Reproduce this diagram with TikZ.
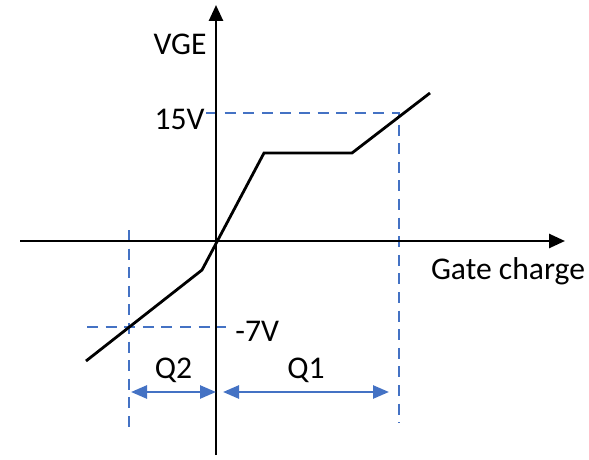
\documentclass[tikz,border=0pt]{standalone}
\usepackage{fontspec}
\setmainfont{Carlito}
\usetikzlibrary{arrows.meta}
\definecolor{guideblue}{RGB}{68,114,196}

\begin{document}
\begin{tikzpicture}[x=0.5pt,y=-0.5pt,
		axis/.style={line width=1.3pt, -{Triangle[length=8pt,width=7pt]}},
		guide/.style={guideblue, line width=1.35pt, dash pattern=on 5.5pt off 3.8pt},
		charge/.style={guideblue, line width=1.3pt, {Triangle[length=8pt,width=6.5pt]}-{Triangle[length=8pt,width=6.5pt]}},
		curve/.style={line width=1.4pt},
		lbl/.style={font=\fontsize{15.8}{18}\selectfont, inner sep=0pt, text=black}]

		\useasboundingbox (0,0) rectangle (589,460);

		% points of the gate charge curve
		\coordinate (start) at (86,361);
		\coordinate (kink) at (202,270);
		\coordinate (plateauL) at (264,153);
		\coordinate (plateauR) at (352,153);
		\coordinate (finish) at (430,93);

		% make the dashed guide lines for 15V and -7V
		\draw[guide] (206,113) -- (399,113) -- (399,423);
		\draw[guide] (87,327) -- (226,327);
		\draw[guide] (129,230) -- (129,427);

		% make the axes
		\draw[axis] (20,241) -- (565,241);
		\draw[axis] (216,455) -- (216,5);

		% make the curve
		\draw[curve] (start) -- (kink) -- (plateauL) -- (plateauR) -- (finish);

		% make the charge arrows
		\draw[charge] (131,392) -- (216,392) node[lbl, midway, above=4pt] (Q2) {Q2};
		\draw[charge] (223,392) -- (389,392) node[lbl, midway, above=4pt] (Q1) {Q1};

		% labels
		\node[lbl] (VGE) at (180,44) {VGE};
		\node[lbl, anchor=east] (V15) at (205,119) {15V};
		\node[lbl, anchor=west] (V7) at (235,331) {-7V};
		\node[lbl] (gate) at (508,271) {Gate charge};

\end{tikzpicture}
\end{document}
